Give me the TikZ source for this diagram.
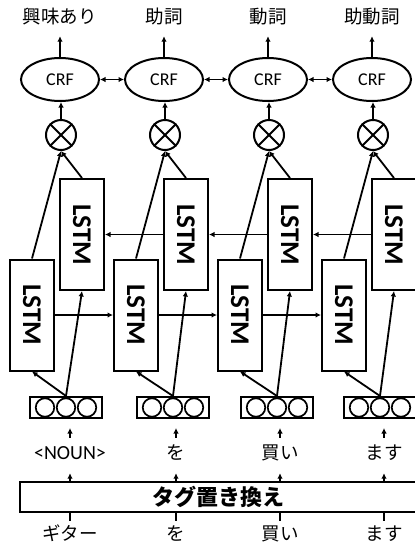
\documentclass[tikz,border=0pt]{standalone}
\usepackage{graphicx}
\usepackage{fontspec}
\setmainfont{Carlito}
\newfontfamily\jp{Noto Sans CJK JP}
\usetikzlibrary{shapes.geometric,arrows.meta}
\begin{document}
\begin{tikzpicture}[x=1pt,y=-1pt,
  arr/.style={line width=1.8pt,-{Latex[length=5.5pt,width=5.5pt]}},
  darr/.style={line width=1.8pt,{Latex[length=5.5pt,width=5.5pt]}-{Latex[length=5.5pt,width=5.5pt]}},
  plain/.style={line width=1.8pt},
  crf/.style={ellipse,draw,line width=2pt,minimum width=78pt,minimum height=43pt,inner sep=0pt,font=\fontsize{18}{18}\selectfont},
  otim/.style={circle,draw,line width=2pt,minimum size=30pt,inner sep=0pt},
  lstm/.style={draw,line width=2pt,minimum width=44pt,minimum height=111pt,inner sep=0pt,font=\fontsize{27}{27}\selectfont\bfseries},
  emb/.style={draw,line width=2pt,minimum width=72pt,minimum height=21pt,inner sep=0pt},
  unit/.style={circle,draw,line width=1.7pt,minimum size=18.5pt,inner sep=0pt},
  toplab/.style={font=\jp\fontsize{18.5}{18.5}\selectfont,inner sep=0pt,text height=15pt,text depth=3pt},
  word/.style={font=\fontsize{20}{20}\selectfont,inner sep=0pt,text height=13pt,text depth=3pt},
  jword/.style={word,font=\jp\fontsize{18.5}{18.5}\selectfont},
  tagbox/.style={draw,line width=2pt,minimum width=397pt,minimum height=30pt,inner sep=0pt,font=\jp\bfseries\fontsize{22}{22}\selectfont}
]
\useasboundingbox (0,0) rectangle (415,547);

% top labels
\node[toplab] (l1) at (60,17) {興味あり};
\node[toplab] (l2) at (164,17) {助詞};
\node[toplab] (l3) at (268,17) {動詞};
\node[toplab] (l4) at (372,17) {助動詞};

% CRF
\foreach \i/\x in {1/60,2/164,3/268,4/372}{
  \node[crf] (c\i) at (\x,79.5) {CRF};
  \node[otim] (o\i) at (\x+1,135) {};
  \draw[line width=2pt] (o\i.north east) -- (o\i.south west);
  \draw[line width=2pt] (o\i.north west) -- (o\i.south east);
  \draw[arr] (o\i.north) -- (o\i.north |- c\i.south);
  \draw[arr,shorten >=10pt] (c\i.north) -- (c\i.north |- l\i.south);
}
\draw[darr] (c1.east) -- (c2.west);
\draw[darr] (c2.east) -- (c3.west);
\draw[darr] (c3.east) -- (c4.west);

% LSTMs
\foreach \i/\x in {1/32,2/136,3/240,4/344}{
  \node[lstm] (f\i) at (\x,315) {\rotatebox{-90}{LSTM}};
}
\foreach \i/\x in {1/82,2/186,3/290,4/394}{
  \node[lstm] (b\i) at (\x,234.5) {\rotatebox{-90}{LSTM}};
}
\draw[arr] (f1.east) -- (f2.west);
\draw[arr] (f2.east) -- (f3.west);
\draw[arr] (f3.east) -- (f4.west);
\draw[arr] (b2.west) -- (b1.east);
\draw[arr] (b3.west) -- (b2.east);
\draw[arr] (b4.west) -- (b3.east);

% embeddings
\foreach \i/\x in {1/66,2/173,3/277,4/380}{
  \node[emb] (e\i) at (\x,407.5) {};
  \node[unit] (u\i a) at (\x-21,407.5) {};
  \node[unit] (u\i b) at (\x,407.5) {};
  \node[unit] (u\i c) at (\x+21,407.5) {};
  \draw[arr] (e\i.north) -- (f\i.south);
  \draw[arr] (e\i.north) -- (b\i.south);
  \draw[arr] (f\i.north) -- (o\i.south);
  \draw[arr] (b\i.north) -- (o\i.south);
}

% words
\node[word] (w1) at (70,454) {<NOUN>};
\node[jword] (w2) at (176,454) {を};
\node[jword] (w3) at (280,454) {買い};
\node[jword] (w4) at (384,454) {ます};

\node[tagbox] (tag) at (218.5,497) {タグ置き換え};

\node[jword] (v1) at (70,535) {ギター};
\node[jword] (v2) at (176,535) {を};
\node[jword] (v3) at (280,535) {買い};
\node[jword] (v4) at (384,535) {ます};

\foreach \i in {1,2,3,4}{
  \draw[arr,shorten <=8pt,shorten >=9pt] (w\i.north) -- (w\i.north |- e\i.south);
  \draw[arr,shorten >=11pt] (w\i.south |- tag.north) -- (w\i.south);
  \draw[plain,shorten >=6pt] (v\i.north |- tag.south) -- (v\i.north);
}
\end{tikzpicture}
\end{document}
